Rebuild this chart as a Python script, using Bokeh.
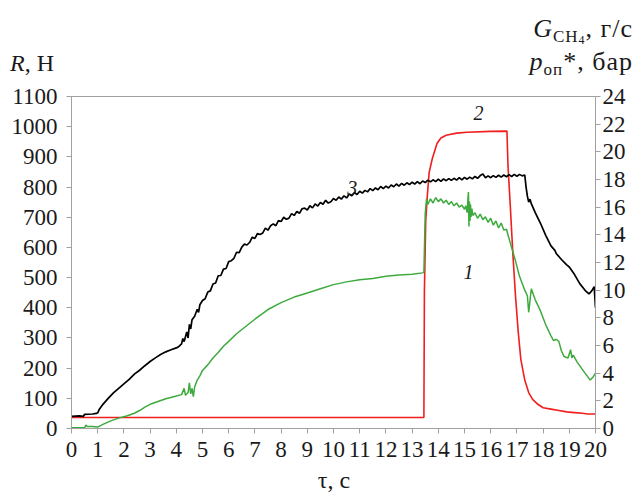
from bokeh.plotting import figure
from bokeh.models import Range1d, LinearAxis, FixedTicker, Label, Div
from bokeh.layouts import column
from bokeh.embed import file_html
from bokeh.resources import INLINE

# ---- data ----
# curve 3: thrust R, N (left axis)
t_R = [0.0, 0.3, 0.45, 0.5, 0.8, 0.95, 1.0, 1.05, 1.2, 1.4, 1.6, 1.8, 2.0, 2.2, 2.4, 2.6, 2.8,
       3.0, 3.2, 3.4, 3.6, 3.8, 4.0, 4.1, 4.2, 4.25, 4.3, 4.4, 4.45, 4.5, 4.55, 4.6, 4.7, 4.8, 4.85, 4.9,
       5.0, 5.1, 5.2, 5.3, 5.4, 5.5, 5.6, 5.7, 5.8, 5.9, 6.0, 6.1, 6.2, 6.3, 6.4, 6.5, 6.6, 6.7, 6.8, 6.9,
       7.0, 7.1, 7.2, 7.3, 7.4, 7.5, 7.6, 7.7, 7.8, 7.9, 8.0, 8.1, 8.2, 8.3, 8.4, 8.5, 8.6, 8.7, 8.8, 8.9,
       9.0, 9.1, 9.2, 9.3, 9.4, 9.5, 9.6, 9.7, 9.8, 9.9, 10.0, 10.1, 10.2, 10.3, 10.4, 10.5, 10.6, 10.7,
       10.8, 10.9, 11.0, 11.1, 11.2, 11.3, 11.4, 11.5, 11.6, 11.7, 11.8, 11.9, 12.0, 12.1, 12.2, 12.3,
       12.4, 12.5, 12.6, 12.7, 12.8, 12.9, 13.0, 13.1, 13.2, 13.3, 13.4, 13.5, 13.6, 13.7, 13.8, 13.9,
       14.0, 14.1, 14.2, 14.3, 14.4, 14.5, 14.6, 14.7, 14.8, 14.9, 15.0, 15.1, 15.2, 15.3, 15.4, 15.5,
       15.6, 15.7, 15.8, 15.9, 16.0, 16.1, 16.2, 16.3, 16.4, 16.5, 16.6, 16.7, 16.8, 16.9, 17.0, 17.1,
       17.2, 17.3, 17.35, 17.4, 17.45, 17.5, 17.55, 17.7, 17.9, 18.1, 18.3, 18.45, 18.5, 18.7, 18.9,
       19.0, 19.2, 19.4, 19.6, 19.75, 19.85, 19.95, 20.0]
R_val = [40, 42, 40, 47, 48, 50, 52, 62, 80, 100, 118, 133, 148, 163, 180, 193, 208,
         222, 234, 245, 254, 261, 267, 272, 280, 298, 288, 320, 300, 345, 330, 360, 372, 395, 385, 410,
         424, 430, 452, 456, 479, 482, 506, 507, 528, 530, 553, 556, 564, 584, 583, 601, 611, 608, 617, 634,
         630, 646, 643, 648, 664, 657, 672, 678, 672, 689, 686, 700, 693, 697, 712, 706, 719, 713, 728, 730,
         724, 738, 731, 744, 737, 749, 743, 756, 747, 751, 762, 756, 767, 760, 771, 764, 777, 771,
         782, 775, 786, 780, 789, 784, 795, 788, 797, 791, 802, 795, 803, 797, 807, 801,
         810, 803, 812, 806, 814, 808, 816, 810, 818, 811, 820, 815, 823, 817, 824, 818,
         826, 819, 827, 821, 828, 822, 829, 823, 831, 824, 832, 826, 833, 827, 835, 829,
         838, 843, 831, 837, 831, 838, 832, 839, 833, 840, 834, 841, 835, 842, 836, 842,
         837, 840, 800, 770, 750, 760, 745, 715, 680, 640, 605, 590, 580, 560, 542,
         535, 510, 480, 458, 446, 455, 470, 400]

# curve 1: methane flow G_CH4, g/s (right axis)
t_G = [0.0, 0.5, 0.55, 0.6, 0.8, 1.0, 1.2, 1.5, 1.8, 2.1, 2.4, 2.6, 2.8, 3.0, 3.3, 3.6, 3.9, 4.2,
       4.3, 4.35, 4.45, 4.5, 4.55, 4.6, 4.65, 4.7, 4.8, 4.9, 5.0, 5.2, 5.4, 5.6, 5.8, 6.0, 6.3, 6.6,
       7.0, 7.5, 8.0, 8.5, 9.0, 9.5, 10.0, 10.5, 11.0, 11.5, 12.0, 12.5, 13.0, 13.4, 13.45,
       13.5, 13.55, 13.6, 13.7, 13.8, 13.9, 14.0, 14.1, 14.2, 14.3, 14.4, 14.5, 14.6, 14.7, 14.8, 14.9,
       15.0, 15.05, 15.1, 15.13, 15.15, 15.17, 15.19, 15.21, 15.23, 15.25, 15.28, 15.32, 15.4, 15.5,
       15.6, 15.7, 15.8, 15.9, 16.0, 16.1, 16.2, 16.3, 16.4, 16.5, 16.6, 16.75, 16.95, 17.1, 17.3,
       17.4, 17.45, 17.55, 17.7, 17.9, 18.1, 18.3, 18.4, 18.5, 18.6, 18.7, 18.8, 18.95, 19.05, 19.1,
       19.15, 19.3, 19.45, 19.6, 19.8, 19.9, 20.0]
G_val = [0.05, 0.05, 0.25, 0.15, 0.15, 0.1, 0.3, 0.55, 0.75, 0.9, 1.1, 1.3, 1.55, 1.75, 1.95, 2.15, 2.3, 2.45,
         2.9, 2.4, 2.6, 3.3, 2.5, 2.9, 2.3, 3.0, 3.5, 3.8, 4.2, 4.6, 5.1, 5.5, 5.95, 6.3, 6.85, 7.3,
         7.9, 8.6, 9.1, 9.5, 9.8, 10.1, 10.4, 10.6, 10.75, 10.85, 11.0, 11.1, 11.15, 11.25, 11.3,
         15.5, 16.6, 16.2, 16.6, 16.3, 16.7, 16.4, 16.6, 16.3, 16.5, 16.2, 16.4, 16.1, 16.3, 16.0, 16.15,
         15.85, 16.1, 15.6, 16.6, 17.1, 14.6, 16.4, 15.0, 16.2, 15.3, 15.9, 15.4, 15.6, 15.2,
         15.5, 15.1, 15.3, 14.9, 15.2, 14.7, 15.0, 14.5, 14.85, 14.35, 14.4, 13.4, 12.1, 11.0, 10.0,
         9.6, 8.4, 10.1, 9.3, 8.5, 7.5, 6.7, 6.35, 6.45, 6.3, 5.6, 5.2, 5.1, 5.7, 5.1,
         5.3, 4.8, 4.4, 4.0, 3.5, 3.7, 4.0]

# curve 2: pressure p_op*, bar (right axis)
t_p = [0.0, 13.45, 13.47, 13.52, 13.58, 13.65, 13.77, 13.95, 14.1, 14.3, 14.7, 15.1, 16.0, 16.62,
       16.66, 16.75, 16.85, 16.95, 17.05, 17.15, 17.3, 17.45, 17.6, 17.8, 18.0, 18.3, 18.6, 18.9,
       19.2, 19.5, 19.7, 20.0]
p_val = [0.8, 0.8, 10.0, 15.0, 16.8, 18.5, 19.5, 20.6, 21.0, 21.2, 21.35, 21.42, 21.48, 21.5,
         19.0, 16.0, 12.5, 9.5, 7.0, 5.0, 3.5, 2.6, 2.1, 1.75, 1.5, 1.4, 1.3, 1.2,
         1.15, 1.1, 1.05, 1.05]

x_ticks = list(range(0, 21))
R_ticks = list(range(0, 1101, 100))
right_ticks = list(range(0, 25, 2))

FONT = "Liberation Serif"
AXIS_GRAY = "#a0a0a0"
TXT = "#1a1a1a"
W = 636
HEAD_H = 82
FOOT_H = 24

# ---------- header holding the axis titles (HTML text) ----------
base = f"position:absolute;white-space:nowrap;font-family:'{FONT}';font-size:24px;line-height:24px;color:{TXT};"
big = f"position:absolute;white-space:nowrap;font-family:'{FONT}';font-size:26px;line-height:24px;letter-spacing:1px;color:{TXT};"
sub = "font-size:17px;line-height:17px;display:inline-block;position:relative;top:5px;"
subsub = "font-size:12px;line-height:12px;display:inline-block;position:relative;top:2px;"
head_html = (
    f'<div style="position:relative;width:{W}px;height:{HEAD_H}px;">'
    f'<span style="{base}left:10px;top:51px;"><i>R</i>, Н</span>'
    f'<span style="{big}right:3px;top:17px;"><i>G</i><span style="{sub}">CH<span style="{subsub}">4</span></span>, г/с</span>'
    f'<span style="{big}right:3px;top:50px;"><i>p</i><span style="{sub}">оп</span>*, бар</span>'
    '</div>'
)
head = Div(text=head_html, width=W, height=HEAD_H, margin=0,
           styles={"padding": "0", "margin": "0", "overflow": "visible"})

# ---------- main plot ----------
p = figure(width=W, height=386, output_backend="svg", toolbar_location=None,
           x_range=Range1d(0, 20), y_range=Range1d(0, 1100),
           min_border_left=71, min_border_right=41, min_border_top=14, min_border_bottom=40)
p.extra_y_ranges = {"right": Range1d(0, 24)}
p.grid.visible = False
p.outline_line_color = AXIS_GRAY

def style_axis(ax, ticks, standoff):
    ax.ticker = FixedTicker(ticks=ticks)
    ax.axis_line_color = AXIS_GRAY
    ax.major_tick_line_color = AXIS_GRAY
    ax.minor_tick_line_color = None
    ax.major_tick_out = 5
    ax.major_tick_in = 0
    ax.major_label_text_font = FONT
    ax.major_label_text_font_size = "23px"
    ax.major_label_text_color = TXT
    ax.major_label_standoff = standoff

style_axis(p.xaxis[0], x_ticks, 8)
style_axis(p.yaxis[0], R_ticks, 9)
ax_r = LinearAxis(y_range_name="right")
style_axis(ax_r, right_ticks, 2)
p.add_layout(ax_r, "right")

p.line(t_p, p_val, y_range_name="right", line_color="#f01e1e", line_width=1.6)
p.line(t_G, G_val, y_range_name="right", line_color="#3eaa3e", line_width=1.5)
p.line(t_R, R_val, line_color="#000000", line_width=1.7)

for txt, xx, yy in [("1", 15.15, 11.3), ("2", 15.53, 22.8)]:
    p.add_layout(Label(x=xx, y=yy, y_range_name="right", text=txt, text_font=FONT,
                       text_font_size="20px", text_font_style="italic",
                       text_align="center", text_baseline="middle", text_color=TXT))
p.add_layout(Label(x=10.72, y=797, text="3", text_font=FONT, text_font_size="20px",
                   text_font_style="italic", text_align="center", text_baseline="middle",
                   text_color=TXT))

# ---------- footer holding the x-axis title ----------
foot_html = (
    f'<div style="position:relative;width:{W}px;height:{FOOT_H}px;">'
    f'<span style="position:absolute;white-space:nowrap;left:314px;width:40px;text-align:center;top:2px;'
    f"font-family:'{FONT}';font-size:24px;line-height:20px;color:{TXT};\">τ, с</span>"
    '</div>'
)
foot = Div(text=foot_html, width=W, height=FOOT_H, margin=0,
           styles={"padding": "0", "margin": "0", "overflow": "visible"})

layout = column(head, p, foot, spacing=0)
open("out.html", "w").write(file_html(layout, INLINE))
